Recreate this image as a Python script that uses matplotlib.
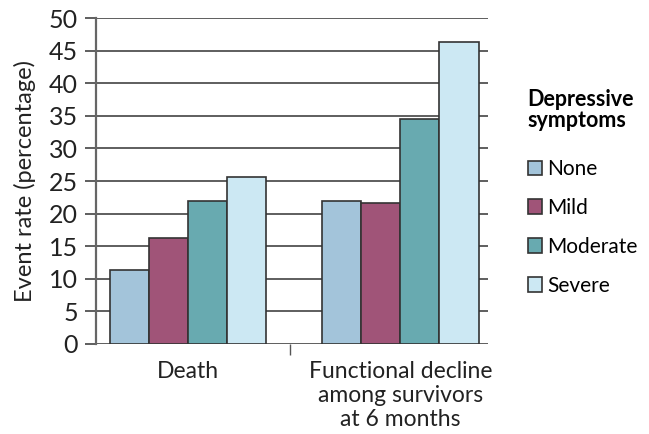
import numpy as np
import matplotlib
matplotlib.use("Agg")
import matplotlib.pyplot as plt

plt.rcParams['font.family'] = ['Lato', 'DejaVu Sans']

# Event rates by depressive symptom level
categories = ["Death", "Functional decline\namong survivors\nat 6 months"]
levels = ["None", "Mild", "Moderate", "Severe"]
none_vals = [11.3, 22.0]
mild_vals = [16.2, 21.7]
moderate_vals = [22.0, 34.5]
severe_vals = [25.6, 46.4]
yticks = [0, 5, 10, 15, 20, 25, 30, 35, 40, 45, 50]

colors = ["#a3c4da", "#a05478", "#68aab0", "#cce8f3"]
series = [none_vals, mild_vals, moderate_vals, severe_vals]

fig = plt.figure(figsize=(6.49, 4.34), dpi=100)
ax = fig.add_axes([0.148, 0.2074, 0.604, 0.751])

x = np.arange(len(categories))
w = 0.184
for i, (vals, name) in enumerate(zip(series, levels)):
    ax.bar(x + (i - 1.5) * w, vals, width=w, color=colors[i], edgecolor="#333333",
           linewidth=1.2, label=name, zorder=3)

ax.set_xlim(-0.435, 1.413)
ax.set_ylim(0, 50)
ax.set_yticks(yticks)
ax.yaxis.grid(True, color="#333333", linewidth=1.1, zorder=0)
ax.set_axisbelow(True)
ax.tick_params(axis="y", length=8, width=1.1, color="#333333", labelsize=18,
               pad=5, labelcolor="#222222")

ax.set_xticks(x)
ax.set_xticklabels(categories, fontsize=16.5, color="#222222", linespacing=1.2)
ax.tick_params(axis="x", length=0, pad=12)
ax.set_xticks([0.48], minor=True)
ax.tick_params(axis="x", which="minor", length=8, width=1, color="#555555")

for s in ["top", "right", "bottom"]:
    ax.spines[s].set_visible(False)
ax.spines["left"].set_color("#666666")
ax.spines["left"].set_linewidth(1.6)
ax.spines["left"].set_zorder(4)

ax.set_ylabel("Event rate (percentage)", fontsize=17, color="#222222")
ax.yaxis.set_label_coords(-0.153, 0.5)

leg = ax.legend(loc="upper left", bbox_to_anchor=(0.8, 0.815), bbox_transform=fig.transFigure,
                frameon=False, fontsize=15, handlelength=0.7, handleheight=0.7,
                handletextpad=0.25, labelspacing=0.9, borderaxespad=0,
                title="Depressive\nsymptoms", alignment="left")
leg.get_title().set_fontweight("bold")
leg.get_title().set_fontsize(15.5)
leg.get_title().set_linespacing(1.05)
leg._legend_box.sep = 20

fig.savefig("out.png", dpi=100)
